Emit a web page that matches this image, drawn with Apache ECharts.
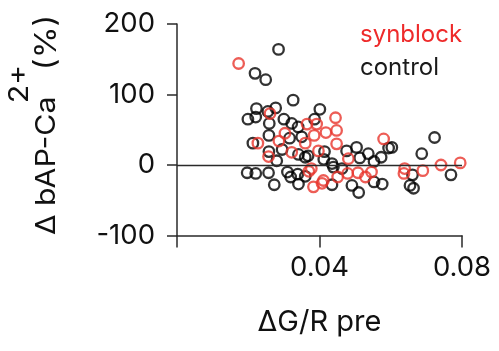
<!DOCTYPE html>
<html><head><meta charset="utf-8">
<script src="https://cdn.jsdelivr.net/npm/echarts@6/dist/echarts.min.js"></script>
<style>html,body{margin:0;padding:0;background:#fff}#c{width:499px;height:351px}</style>
</head><body><div id="c"></div>
<script>
// [ΔG/R pre, Δ bAP-Ca2+ (%)]
const synblock = [[0.0173,144],[0.0261,73],[0.0365,58],[0.0392,58],[0.0445,67],[0.0418,46],[0.0448,49],[0.0303,45],[0.0385,42],[0.0227,31],[0.0286,34],[0.0360,31],[0.0448,30],[0.0257,12],[0.0322,18],[0.0397,20],[0.0377,-5],[0.0370,-9],[0.0383,-31],[0.0411,-22],[0.0407,-26],[0.0451,-17],[0.0479,-12],[0.0481,9],[0.0508,-11],[0.0529,-17],[0.0546,-10],[0.0580,37],[0.0639,-5],[0.0637,-12],[0.0690,-8],[0.0741,0],[0.0795,3]];
const control = [[0.0285,164],[0.0219,130],[0.0249,121],[0.0326,92],[0.0223,80],[0.0277,81],[0.0255,76],[0.0401,79],[0.0199,65],[0.0221,68],[0.0300,65],[0.0259,59],[0.0322,59],[0.0340,54],[0.0386,65],[0.0258,42],[0.0316,38],[0.0350,40],[0.0213,31],[0.0295,22],[0.0258,19],[0.0280,6],[0.0341,15],[0.0360,11],[0.0414,19],[0.0412,8],[0.0197,-11],[0.0221,-12],[0.0257,-11],[0.0310,-10],[0.0319,-17],[0.0339,-13],[0.0360,-16],[0.0341,-27],[0.0273,-28],[0.0435,-28],[0.0439,-3],[0.0476,20],[0.0504,25],[0.0537,16],[0.0513,10],[0.0573,11],[0.0553,5],[0.0594,24],[0.0603,25],[0.0687,16],[0.0723,39],[0.0661,-14],[0.0654,-29],[0.0664,-33],[0.0769,-14],[0.0491,-29],[0.0510,-39],[0.0553,-24],[0.0576,-27],[0.0463,-5],[0.0435,2],[0.0368,13]];
const seriesNames = ['synblock', 'control'];
const xRange = [0, 0.08], xStep = 0.04;
const yRange = [-100, 200], yStep = 100;
const yTitleParts = ['Δ bAP-Ca', '2+', '(%)'];

const RED = '#e8342c', BLK = '#000000', AX = '#2a2a2a';
const FONT = 'Inter';
const TFS = 27.5;

// measure main title part so the superscript can tuck in just like the original
const mctx = document.createElement('canvas').getContext('2d');
mctx.font = TFS + 'px ' + FONT;
const mainW = mctx.measureText(yTitleParts[0]).width;

const chart = echarts.init(document.getElementById('c'), null, {renderer: 'canvas'});
chart.setOption({
  animation: false,
  backgroundColor: '#fff',
  grid: {left: 177, right: 37, top: 24, bottom: 115.5, containLabel: false},
  legend: {
    orient: 'vertical', left: 355, top: 21, padding: 0,
    icon: 'none', itemWidth: 0, itemHeight: 27, itemGap: 6.4,
    selectedMode: false,
    textStyle: {fontFamily: FONT, fontSize: 24, lineHeight: 27},
    data: [
      {name: seriesNames[0], textStyle: {color: '#ee2a2a'}},
      {name: seriesNames[1], textStyle: {color: '#1a1a1a'}}
    ]
  },
  xAxis: {
    type: 'value', min: xRange[0], max: xRange[1], interval: xStep,
    axisLine: {show: true, onZero: false, lineStyle: {color: AX, width: 1.5}},
    axisTick: {show: true, length: 12, lineStyle: {color: AX, width: 1.5}},
    splitLine: {show: false},
    axisLabel: {fontFamily: FONT, fontSize: 27.5, color: '#111', margin: 18.5,
      formatter: v => v === 0 ? '' : v.toFixed(2)},
    name: 'ΔG/R pre', nameLocation: 'middle', nameGap: 72,
    nameTextStyle: {fontFamily: FONT, fontSize: 29, color: '#111'}
  },
  yAxis: {
    type: 'value', min: yRange[0], max: yRange[1], interval: yStep,
    axisLine: {show: true, onZero: false, lineStyle: {color: AX, width: 1.5}},
    axisTick: {show: true, length: 10, lineStyle: {color: AX, width: 1.5}},
    splitLine: {show: false},
    axisLabel: {fontFamily: FONT, fontSize: 27.5, color: '#111', margin: 22}
  },
  graphic: [{
    type: 'text', x: 47, y: 235, rotation: Math.PI / 2, scaleX: 1.1,
    style: {
      text: '{b|' + yTitleParts[0] + '}{s|' + yTitleParts[1] + '}{c|' + yTitleParts[2] + '}',
      align: 'left', verticalAlign: 'middle', fill: '#111',
      rich: {
        b: {fontFamily: FONT, fontSize: TFS, lineHeight: 82, verticalAlign: 'middle', fill: '#111', width: mainW - 6, align: 'left'},
        s: {fontFamily: FONT, fontSize: TFS, lineHeight: 28, verticalAlign: 'top', fill: '#111', width: 30, align: 'left'},
        c: {fontFamily: FONT, fontSize: 29.5, lineHeight: 82, verticalAlign: 'middle', fill: '#111'}
      }
    }
  }],
  series: [
    {
      name: seriesNames[1], type: 'scatter', data: control,
      symbol: 'circle', symbolSize: 10.5,
      itemStyle: {color: 'rgba(0,0,0,0)', borderColor: BLK, borderWidth: 2.3},
      markLine: {
        silent: true, symbol: 'none', label: {show: false},
        lineStyle: {color: AX, width: 1.3, type: 'solid'},
        data: [{yAxis: 0}]
      }
    },
    {
      name: seriesNames[0], type: 'scatter', data: synblock,
      symbol: 'circle', symbolSize: 10.5,
      itemStyle: {color: 'rgba(0,0,0,0)', borderColor: RED, borderWidth: 2.3}
    }
  ]
});
</script>
</body></html>
